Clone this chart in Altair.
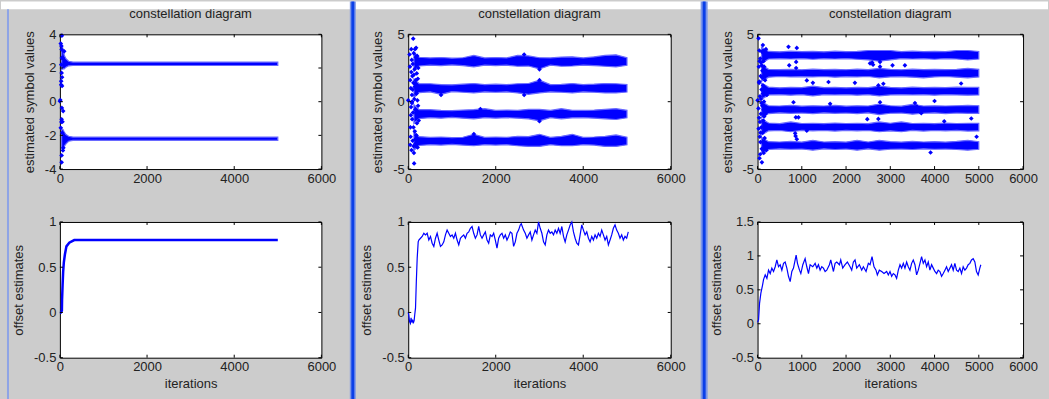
import altair as alt
import pandas as pd

FONT = "Liberation Sans"
BLUE = "#0000ff"
FRINGE = "#6a6aff"
TXT = "#222222"

# ---------------- tick values ----------------
X_TICKS_12 = [0, 2000, 4000, 6000]
X_TICKS_3 = [0, 1000, 2000, 3000, 4000, 5000, 6000]
Y_TOP_1 = [-4, -2, 0, 2, 4]
Y_TOP_23 = [-5, 0, 5]
Y_BOT_12 = [-0.5, 0, 0.5, 1]
Y_BOT_3 = [-0.5, 0, 0.5, 1, 1.5]

# ---------------- panel 1 : constellation ----------------
p1_levels = [2.25, -2.2]
p1_band_x = [40, 70, 100, 140, 200, 300, 1000, 2000, 3000, 4000, 5000]
p1_up = [[1.15, 0.9, 0.5, 0.3, 0.15, 0.1, 0.1, 0.1, 0.1, 0.1, 0.1],
         [0.6, 0.55, 0.4, 0.25, 0.15, 0.1, 0.1, 0.1, 0.1, 0.1, 0.1]]
p1_lo = [[0.35, 0.3, 0.3, 0.2, 0.12, 0.1, 0.1, 0.1, 0.1, 0.1, 0.1],
         [0.6, 0.6, 0.45, 0.3, 0.15, 0.1, 0.1, 0.1, 0.1, 0.1, 0.1]]
p1_pts_x = [46, 20, 35, 40, 99, 60, 30, 40, 30, 50, 0, 10, 45, 75, 40, 60, 20, 55, 80, 40, 40, 30, 50, 35, 45, 70]
p1_pts_y = [3.92, 3.45, 3.3, 3.1, 2.99, 2.6, 2.2, 1.71, 1.22, 0.93, 0.03, 0.1, -0.37, -0.56, -1.05, -1.19,
            -1.55, -1.85, -2.74, -3.19, -3.6, 1.0, 1.45, -1.2, 2.6, -2.9]

# ---------------- panel 1 : offset ----------------
p1_off_x = [0, 23, 46, 50, 62, 75, 90, 115, 150, 215, 330, 600, 1200, 2000, 3000, 4000, 5000]
p1_off_y = [0, 0, 0.02, 0.14, 0.3, 0.45, 0.55, 0.64, 0.73, 0.77, 0.80, 0.80, 0.80, 0.80, 0.80, 0.80, 0.80]

# ---------------- panel 2 : constellation ----------------
p2_levels = [2.98, 1.0, -0.92, -2.92]
p2_band_x = [130, 250, 500, 750, 1000, 1250, 1500, 1750, 2000, 2250, 2500,
             2750, 3000, 3250, 3500, 3750, 4000, 4250, 4500, 4750, 5000]
p2_up = [
    [0.7, 0.32, 0.27, 0.3, 0.25, 0.28, 0.45, 0.27, 0.3, 0.27, 0.45, 0.42, 0.28, 0.27, 0.33, 0.35, 0.27, 0.35, 0.45, 0.5, 0.28],
    [0.7, 0.33, 0.33, 0.27, 0.25, 0.3, 0.35, 0.27, 0.3, 0.27, 0.33, 0.35, 0.6, 0.27, 0.28, 0.35, 0.27, 0.3, 0.35, 0.33, 0.28],
    [0.7, 0.33, 0.33, 0.27, 0.25, 0.3, 0.33, 0.4, 0.27, 0.3, 0.27, 0.35, 0.35, 0.27, 0.4, 0.28, 0.27, 0.3, 0.35, 0.4, 0.28],
    [0.7, 0.33, 0.27, 0.3, 0.25, 0.28, 0.5, 0.27, 0.3, 0.27, 0.35, 0.33, 0.5, 0.27, 0.35, 0.5, 0.27, 0.3, 0.35, 0.45, 0.28],
]
p2_lo = [
    [0.7, 0.33, 0.27, 0.3, 0.25, 0.3, 0.4, 0.27, 0.3, 0.27, 0.35, 0.33, 0.55, 0.27, 0.35, 0.33, 0.27, 0.3, 0.35, 0.4, 0.28],
    [0.7, 0.33, 0.27, 0.45, 0.25, 0.3, 0.35, 0.27, 0.3, 0.27, 0.35, 0.45, 0.35, 0.27, 0.3, 0.35, 0.27, 0.3, 0.35, 0.35, 0.28],
    [0.7, 0.33, 0.27, 0.3, 0.25, 0.3, 0.35, 0.27, 0.3, 0.27, 0.3, 0.35, 0.5, 0.27, 0.35, 0.28, 0.27, 0.3, 0.35, 0.4, 0.28],
    [0.7, 0.33, 0.27, 0.3, 0.25, 0.3, 0.35, 0.27, 0.3, 0.27, 0.35, 0.4, 0.4, 0.27, 0.35, 0.35, 0.27, 0.3, 0.4, 0.4, 0.28],
]
p2_pts_x = [0, 30, 40, 45, 50, 55, 60, 65, 70, 75, 80, 85, 90, 95, 100, 105, 110, 114, 118, 122, 126, 130,
            135, 140, 145, 150, 155, 160, 165, 170, 175, 180, 185, 190, 195, 200, 205, 210, 215, 220, 225,
            230, 240, 60, 90, 120, 150, 70, 100, 130, 160, 190, 45, 85, 175,
            750, 1650, 2650, 3000, 3000, 3000, 1500, 2650]
p2_pts_y = [0.1, 3.5, 2.6, 1.6, -1.9, -2.6, 1.0, -0.4, 2.2, -3.6, 3.1, 0.5, -1.3, 1.9, -2.9, 2.8, -0.8, 4.68,
            1.4, -3.3, 3.6, -3.8, -4.58, 0.2, 2.4, -2.2, 3.9, -0.6, 1.3, -3.1, 3.3, 4.0, -2.5, 0.6, 2.1, -1.6,
            3.4, 0.1, -3.4, 1.7, -0.3, 2.5, -1.4, -1.0, 0.0, -1.9, 1.1, 3.9, 0.9, 2.0, -2.8, -0.9, -3.2, -0.1, 1.6,
            0.5, -0.55, 0.5, 1.6, 2.4, -1.45, -2.4, 3.5]

# ---------------- panel 2 : offset ----------------
p2_off_x = [0, 15, 30, 50, 65, 80, 100, 115, 135, 150, 167, 185, 205, 228,
            243, 281, 319, 357, 395, 433, 471, 509, 547, 585,
            623, 661, 699, 737, 775, 813, 851, 889, 927, 965,
            1003, 1041, 1079, 1117, 1155, 1193, 1231, 1269, 1307, 1345,
            1383, 1421, 1459, 1497, 1535, 1573, 1611, 1649, 1687, 1725,
            1763, 1801, 1839, 1877, 1915, 1953, 1991, 2029, 2067, 2105,
            2143, 2181, 2219, 2257, 2295, 2333, 2371, 2409, 2447, 2485,
            2523, 2561, 2584, 2637, 2675, 2713, 2751, 2789, 2827, 2865,
            2903, 2941, 2979, 3017, 3055, 3093, 3131, 3169, 3207, 3245,
            3283, 3321, 3359, 3397, 3435, 3473, 3511, 3549, 3587, 3625,
            3663, 3701, 3739, 3777, 3815, 3853, 3891, 3929, 3967, 4005,
            4043, 4081, 4119, 4157, 4195, 4233, 4271, 4309, 4347, 4385,
            4423, 4461, 4499, 4537, 4575, 4613, 4651, 4689, 4727, 4765,
            4803, 4841, 4879, 4917, 4955, 4993, 5030]
p2_off_y = [0.0, -0.04, -0.1, -0.12, -0.06, -0.11, -0.08, -0.12, -0.09, -0.02, 0.05, 0.34, 0.6, 0.78,
            0.80, 0.82, 0.84, 0.875, 0.857, 0.875, 0.80, 0.84, 0.765, 0.73,
            0.82, 0.875, 0.80, 0.73, 0.746, 0.78, 0.857, 0.91, 0.875, 0.84,
            0.857, 0.82, 0.875, 0.80, 0.746, 0.82, 0.84, 0.857, 0.82, 0.875,
            0.89, 0.93, 0.95, 0.875, 0.82, 0.857, 0.95, 0.857, 0.82, 0.857,
            0.89, 0.80, 0.765, 0.857, 0.84, 0.875, 0.80, 0.71, 0.82, 0.857,
            0.875, 0.82, 0.857, 0.80, 0.84, 0.89, 0.875, 0.73, 0.78, 0.875,
            0.91, 0.967, 0.98, 0.91, 0.875, 0.82, 0.857, 0.89, 0.80, 0.857,
            0.91, 0.875, 1.0, 0.93, 0.875, 0.78, 0.746, 0.857, 0.91, 0.875,
            0.89, 0.857, 0.91, 0.875, 0.93, 0.875, 0.95, 0.84, 0.78, 0.857,
            0.91, 0.967, 1.0, 0.89, 0.82, 0.765, 0.746, 0.857, 0.967, 0.91,
            0.857, 0.89, 0.82, 0.78, 0.84, 0.80, 0.857, 0.82, 0.875, 0.84,
            0.91, 0.857, 0.80, 0.84, 0.746, 0.80, 0.857, 0.93, 0.967, 0.91,
            0.875, 0.82, 0.857, 0.80, 0.84, 0.82, 0.89]

# ---------------- panel 3 : constellation ----------------
p3_levels = [3.45, 2.12, 0.78, -0.58, -1.88, -3.25]
p3_band_x = [90, 250, 500, 750, 1000, 1250, 1500, 1750, 2000, 2250, 2500,
             2750, 3000, 3250, 3500, 3750, 4000, 4250, 4500, 4750, 5000]
p3_up = [
    [0.6, 0.28, 0.25, 0.3, 0.26, 0.28, 0.25, 0.3, 0.26, 0.28, 0.35, 0.35, 0.35, 0.26, 0.3, 0.26, 0.28, 0.26, 0.35, 0.35, 0.28],
    [0.6, 0.28, 0.26, 0.28, 0.25, 0.3, 0.26, 0.28, 0.25, 0.3, 0.26, 0.35, 0.28, 0.25, 0.3, 0.26, 0.28, 0.26, 0.28, 0.35, 0.28],
    [0.6, 0.3, 0.25, 0.28, 0.26, 0.38, 0.26, 0.28, 0.25, 0.28, 0.26, 0.38, 0.28, 0.25, 0.3, 0.26, 0.28, 0.26, 0.3, 0.28, 0.28],
    [0.6, 0.28, 0.26, 0.3, 0.25, 0.28, 0.26, 0.3, 0.25, 0.28, 0.26, 0.4, 0.28, 0.25, 0.38, 0.26, 0.28, 0.26, 0.28, 0.3, 0.28],
    [0.6, 0.3, 0.25, 0.38, 0.26, 0.28, 0.25, 0.3, 0.26, 0.28, 0.25, 0.38, 0.28, 0.38, 0.26, 0.28, 0.25, 0.3, 0.26, 0.28, 0.28],
    [0.6, 0.28, 0.26, 0.3, 0.25, 0.38, 0.26, 0.28, 0.25, 0.38, 0.26, 0.38, 0.28, 0.25, 0.3, 0.26, 0.28, 0.25, 0.3, 0.38, 0.28],
]
p3_lo = [
    [0.6, 0.28, 0.26, 0.28, 0.25, 0.3, 0.26, 0.28, 0.25, 0.3, 0.35, 0.45, 0.35, 0.25, 0.28, 0.26, 0.3, 0.25, 0.28, 0.35, 0.28],
    [0.6, 0.3, 0.25, 0.28, 0.26, 0.28, 0.25, 0.3, 0.26, 0.28, 0.25, 0.35, 0.28, 0.26, 0.3, 0.35, 0.28, 0.25, 0.3, 0.35, 0.28],
    [0.6, 0.28, 0.26, 0.3, 0.25, 0.35, 0.26, 0.28, 0.25, 0.3, 0.26, 0.35, 0.28, 0.25, 0.28, 0.26, 0.3, 0.25, 0.28, 0.3, 0.28],
    [0.6, 0.3, 0.25, 0.28, 0.26, 0.3, 0.25, 0.28, 0.26, 0.3, 0.25, 0.38, 0.28, 0.26, 0.35, 0.28, 0.25, 0.3, 0.26, 0.28, 0.28],
    [0.6, 0.28, 0.26, 0.35, 0.25, 0.28, 0.26, 0.3, 0.25, 0.28, 0.26, 0.35, 0.28, 0.35, 0.25, 0.3, 0.26, 0.28, 0.25, 0.3, 0.28],
    [0.6, 0.3, 0.25, 0.28, 0.26, 0.35, 0.25, 0.3, 0.26, 0.35, 0.25, 0.35, 0.28, 0.26, 0.3, 0.25, 0.28, 0.26, 0.3, 0.35, 0.28],
]
p3_pts_x = [0, 22, 45, 98, 120, 30, 35, 40, 50, 55, 60, 65, 70, 75, 80, 85, 90, 95, 100, 105, 110, 115,
            125, 130, 135, 140, 145, 150, 160, 170, 180, 190, 200, 210, 40, 20, 25, 60, 150, 120,
            35, 55, 75, 95, 115, 135, 155, 45, 65, 85, 105,
            699, 887, 715, 872, 872, 1113, 812, 1640, 865, 1113, 850, 860, 887, 2730, 2768, 2768, 2542,
            2590, 2610, 2843, 2730, 2768, 3557, 3600, 3650, 3700, 4219, 3910, 1603, 925, 2200, 3330,
            4600, 1250, 3050, 4000, 2480, 4830, 4950]
p3_pts_y = [0.1, 4.7, -4.2, -4.5, 4.2, 2.6, -1.2, 1.5, -2.6, 0.4, 3.2, -3.0, 1.9, -0.9, 2.9, -1.9, 0.9,
            -3.5, 3.7, -0.3, 2.3, -2.3, 1.2, -1.4, 3.0, -3.8, 0.0, 2.6, -2.7, 1.6, -0.9, 3.9, -3.6, 0.5,
            3.8, -0.5, -2.0, -3.9, -1.1, 0.6,
            1.4, -1.5, 0.2, 2.7, -3.0, -0.6, 1.1, 3.0, -2.3, -0.1, 1.8,
            4.07, 3.99, 2.7, 2.95, 2.5, 1.58, -0.04, -0.16, -1.16, -2.15, -2.35, -2.55, -2.78, 1.21,
            2.95, 2.6, 2.85, 2.9, 2.75, 1.33, -1.28, -0.04, -0.1, -0.35, -0.6, -0.85, -1.46, -3.77,
            1.46, -1.16, 1.4, 2.7, 1.35, 1.4, 2.7, 0.05, -1.3, -1.25, -2.6]

# ---------------- panel 3 : offset ----------------
p3_off_x = [0, 23, 45, 75, 113, 135, 173, 211, 248, 286,
            323, 361, 399, 436, 474, 511, 549, 587, 624, 662,
            699, 737, 775, 812, 850, 872, 902, 948, 978, 1023,
            1075, 1113, 1151, 1188, 1248, 1301, 1339, 1376, 1414, 1451,
            1489, 1527, 1564, 1624, 1654, 1715, 1752, 1790, 1850, 1880,
            1925, 1978, 2030, 2091, 2128, 2166, 2203, 2241, 2301, 2354,
            2391, 2452, 2504, 2542, 2587, 2632, 2677, 2707, 2752, 2805,
            2858, 2918, 2955, 2993, 3031, 3068, 3106, 3143, 3181, 3219,
            3256, 3294, 3331, 3369, 3406, 3444, 3482, 3519, 3557, 3595,
            3632, 3670, 3707, 3745, 3783, 3820, 3858, 3895, 3933, 3971,
            4008, 4046, 4083, 4121, 4159, 4196, 4234, 4271, 4309, 4347,
            4384, 4422, 4459, 4497, 4535, 4572, 4610, 4647, 4685, 4723,
            4760, 4798, 4835, 4873, 4911, 4948, 4986, 5023, 5046]
p3_off_y = [0.02, 0.06, 0.30, 0.45, 0.57, 0.65, 0.72, 0.67, 0.79, 0.74,
            0.82, 0.77, 0.84, 0.94, 0.84, 0.87, 0.79, 0.89, 0.91, 0.82,
            0.70, 0.62, 0.77, 0.82, 0.94, 1.01, 0.89, 0.79, 0.74, 0.87,
            0.96, 0.84, 0.74, 0.87, 0.84, 0.89, 0.82, 0.87, 0.79, 0.84,
            0.82, 0.77, 0.79, 0.87, 0.94, 0.77, 0.89, 0.91, 0.87, 0.94,
            0.82, 0.87, 0.91, 0.84, 0.79, 0.91, 0.94, 0.82, 0.87, 0.79,
            0.84, 0.77, 0.89, 0.87, 0.99, 0.84, 0.79, 0.72, 0.79, 0.77,
            0.74, 0.77, 0.72, 0.77, 0.70, 0.74, 0.72, 0.67, 0.79, 0.87,
            0.82, 0.89, 0.82, 0.91, 0.84, 0.79, 0.89, 0.94, 0.87, 0.72,
            0.79, 0.89, 0.99, 0.89, 0.94, 0.84, 0.91, 0.79, 0.87, 0.82,
            0.77, 0.74, 0.79, 0.77, 0.70, 0.74, 0.79, 0.84, 0.77, 0.82,
            0.87, 0.79, 0.89, 0.79, 0.77, 0.82, 0.74, 0.84, 0.79, 0.82,
            0.87, 0.89, 0.94, 0.96, 0.91, 0.77, 0.72, 0.82, 0.87]

# ---------------- layout ----------------
W = [262, 263, 266]
H_TOP = 135
H_BOT = 136
COL_GAP = 87
ROW_GAP = 53


def band_frame(xs, levels, ups, los):
    rows = []
    for b, (lev, up, lo) in enumerate(zip(levels, ups, los)):
        for x, u, l in zip(xs, up, lo):
            rows.append({"it": x, "hi": lev + u, "lo": lev - l, "band": b})
    return pd.DataFrame(rows)


def encoders(xt, yt, ydom, xtitle, ytitle):
    xsc = alt.Scale(domain=[0, 6000], nice=False, zero=False)
    ysc = alt.Scale(domain=ydom, nice=False, zero=False)
    xax = alt.Axis(values=xt, labelExpr="datum.value + ''", labelFlush=False)
    yax = alt.Axis(values=yt, labelExpr="datum.value + ''", labelFlush=False)

    def X(field):
        return alt.X(f"{field}:Q", scale=xsc, axis=xax, title=xtitle)

    def Y(field):
        return alt.Y(f"{field}:Q", scale=ysc, axis=yax, title=ytitle)

    return X, Y


def tick_layers(xt, yt, w, h, X, Y):
    L = 3
    dx = pd.DataFrame({"it": xt})
    dy = pd.DataFrame({"val": yt})
    rk = dict(color="black", strokeWidth=1)
    return [
        alt.Chart(dx).mark_rule(**rk).encode(x=X("it"), y=alt.value(h), y2=alt.value(h - L)),
        alt.Chart(dx).mark_rule(**rk).encode(x=X("it"), y=alt.value(0), y2=alt.value(L)),
        alt.Chart(dy).mark_rule(**rk).encode(y=Y("val"), x=alt.value(0), x2=alt.value(L)),
        alt.Chart(dy).mark_rule(**rk).encode(y=Y("val"), x=alt.value(w - L), x2=alt.value(w)),
    ]


def top_chart(w, xt, yt, ydom, bands, px, py):
    X, Y = encoders(xt, yt, ydom, "", "estimated symbol values")
    area = alt.Chart(bands).mark_area(color=BLUE, stroke=FRINGE, strokeWidth=1.2, opacity=1).encode(
        x=X("it"), y=Y("hi"), y2=alt.Y2("lo:Q"), detail="band:N")
    pts = alt.Chart(pd.DataFrame({"it": px, "val": py})).mark_point(
        filled=True, shape="diamond", size=22, color=BLUE, opacity=1).encode(x=X("it"), y=Y("val"))
    layers = [area, pts] + tick_layers(xt, yt, w, H_TOP, X, Y)
    return alt.layer(*layers).properties(
        width=w, height=H_TOP,
        title=alt.TitleParams("constellation diagram", fontSize=13, fontWeight="normal",
                              font=FONT, color=TXT, offset=7, anchor="middle", frame="group"))


def bottom_chart(w, xt, yt, ydom, lx, ly, sw, extra=()):
    X, Y = encoders(xt, yt, ydom, "iterations", "offset estimates")
    line = alt.Chart(pd.DataFrame({"it": lx, "val": ly})).mark_line(
        color=BLUE, strokeWidth=sw).encode(x=X("it"), y=Y("val"))
    layers = list(extra) + [line] + tick_layers(xt, yt, w, H_BOT, X, Y)
    return alt.layer(*layers).properties(width=w, height=H_BOT)


# ---- decorations (figure frames), drawn relative to the bottom-left plot's origin ----
one = pd.DataFrame({"k": [0]})
OX, OY = 59, 33 + H_TOP + ROW_GAP
FIG_W, FIG_H = 1049, 399


def band_rect(x0, x1, y0, y1, color):
    # page coordinates -> coordinates relative to the bottom-left plot origin
    return alt.Chart(one).mark_rect(color=color, strokeWidth=0).encode(
        x=alt.value(x0 - OX), x2=alt.value(x1 - OX), y=alt.value(y0 - OY), y2=alt.value(y1 - OY))


decor = [
    band_rect(0, FIG_W, FIG_H - 1, FIG_H, "#cccccc"),   # defines the bottom edge of the page
    band_rect(0, FIG_W, 0, 8, "white"),                 # white strip along the top
    band_rect(6, 8, 8, FIG_H, "#8ea4e6"),               # left frame border
    band_rect(349.5, 355.5, 0, FIG_H, "#7d97e8"),
    band_rect(351, 354, 0, FIG_H, "#0b3fe8"),
    band_rect(701, 708, 0, FIG_H, "#7d97e8"),
    band_rect(703, 706, 0, FIG_H, "#0b3fe8"),
]

t1 = top_chart(W[0], X_TICKS_12, Y_TOP_1, [-4, 4],
               band_frame(p1_band_x, p1_levels, p1_up, p1_lo), p1_pts_x, p1_pts_y)
t2 = top_chart(W[1], X_TICKS_12, Y_TOP_23, [-5, 5],
               band_frame(p2_band_x, p2_levels, p2_up, p2_lo), p2_pts_x, p2_pts_y)
t3 = top_chart(W[2], X_TICKS_3, Y_TOP_23, [-5, 5],
               band_frame(p3_band_x, p3_levels, p3_up, p3_lo), p3_pts_x, p3_pts_y)
b1 = bottom_chart(W[0], X_TICKS_12, Y_BOT_12, [-0.5, 1], p1_off_x, p1_off_y, 2.5, extra=decor)
b2 = bottom_chart(W[1], X_TICKS_12, Y_BOT_12, [-0.5, 1], p2_off_x, p2_off_y, 1.2)
b3 = bottom_chart(W[2], X_TICKS_3, Y_BOT_3, [-0.5, 1.5], p3_off_x, p3_off_y, 1.2)

chart = alt.concat(
    t1, t2, t3, b1, b2, b3,
    columns=3,
    spacing={"row": ROW_GAP, "column": COL_GAP},
    bounds="flush",
    align="each",
).properties(
    padding=0, background="#cccccc"
).configure_view(
    stroke="black", strokeWidth=1, fill="white"
).configure_axis(
    labelFont=FONT, labelFontSize=13, labelColor=TXT,
    titleFont=FONT, titleFontSize=13, titleFontWeight="normal", titleColor=TXT,
    domain=False, ticks=False, tickSize=0, grid=False,
).configure_axisX(
    labelPadding=3, titlePadding=4
).configure_axisY(
    labelPadding=4, titlePadding=8
)

chart.save("out.html", embed_options={"renderer": "svg", "actions": False})
